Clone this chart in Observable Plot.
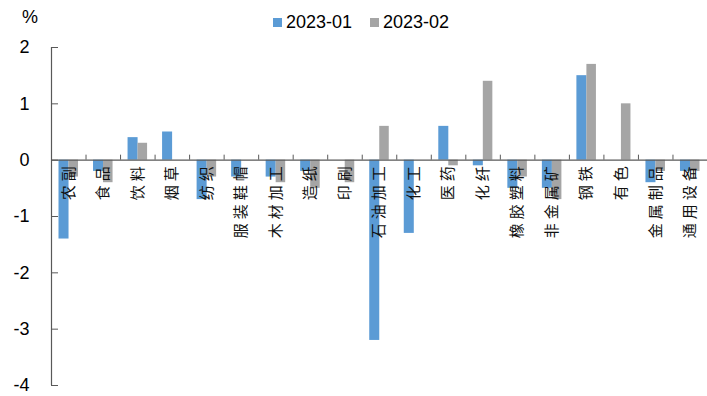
<!DOCTYPE html>
<html><head><meta charset="utf-8">
<script src="https://cdn.jsdelivr.net/npm/d3@7"></script>
<script src="https://cdn.jsdelivr.net/npm/@observablehq/plot@0.6"></script>
<style>
body{margin:0;background:#fff;font-family:"Liberation Sans",Arial,sans-serif;}
#wrap{position:relative;width:707px;height:396px;overflow:hidden;}
.lg{position:absolute;font-size:18px;color:#000;line-height:1;white-space:nowrap;}
.sw{position:absolute;width:9px;height:9px;}
</style></head><body>
<div id="wrap"></div>
<script>
const categories = ["农副","食品","饮料","烟草","纺织","服装鞋帽","木材加工","造纸","印刷","石油加工","化工","医药","化纤","橡胶塑料","非金属矿","钢铁","有色","金属制品","通用设备"];
const jan = [-1.4,-0.2,0.4,0.5,-0.7,-0.3,-0.3,-0.2,0,-3.2,-1.3,0.6,-0.1,-0.5,-0.5,1.5,0,-0.4,-0.2];
const feb = [-0.3,-0.4,0.3,0,-0.3,0,-0.4,-0.5,-0.4,0.6,0,-0.1,1.4,-0.3,-0.7,1.7,1.0,-0.2,-0.2];
const seriesNames = ["2023-01","2023-02"];
const seriesColors = ["#5b9bd5","#a5a5a5"];
const yTicks = [-4,-3,-2,-1,0,1,2];
const unitLabel = "%";

const W = 707, H = 396, mL = 51, mT = 47, mB = 11;
const bw = (W - mL) / categories.length;
const axisColor = "#595959";
const rows = vals => categories.map((c, i) => ({cat: c, v: vals[i]}));

const plot = Plot.plot({
  width: W, height: H,
  marginLeft: mL, marginRight: 0, marginTop: mT, marginBottom: mB,
  x: {type: "band", domain: categories, padding: 0, round: false, axis: null},
  y: {domain: [d3.min(yTicks), d3.max(yTicks)], label: null},
  style: {fontFamily: "'Liberation Sans', Arial, sans-serif", fontSize: "18px", color: "#000", background: "#fff", overflow: "visible"},
  marks: [
    Plot.barY(rows(jan), {x: "cat", y: "v", fill: seriesColors[0], insetLeft: 7.5, insetRight: 17}),
    Plot.barY(rows(feb), {x: "cat", y: "v", fill: seriesColors[1], insetLeft: 17.5, insetRight: 7.5}),
    Plot.ruleY([0], {stroke: axisColor, strokeWidth: 1.2}),
    Plot.ruleX([categories[0]], {x: d => d, y1: d3.min(yTicks), y2: d3.max(yTicks), dx: -bw / 2, stroke: axisColor, strokeWidth: 1.2}),
    Plot.ruleY(yTicks, {y: d => d, insetRight: W - mL - 7, stroke: axisColor}),
    Plot.ruleX(categories.slice(1), {x: d => d, y1: 0, y2: 0, insetBottom: 5, dx: -bw / 2, stroke: axisColor}),
    Plot.axisY({ticks: yTicks, tickSize: 0, tickPadding: 22, tickFormat: d => String(d), fontSize: 18, label: null}),
    Plot.text(categories, {x: d => d, y: 0, text: d => d, rotate: -90, textAnchor: "end", dy: 2, fontSize: 15, fill: "#111", fontFamily: "'Noto Sans CJK SC', sans-serif"})
  ]
});
d3.select(plot).selectAll("g[aria-label='text'] text").style("letter-spacing", "4px");

const wrap = document.getElementById("wrap");
wrap.appendChild(plot);
plot.style.position = "absolute";
plot.style.left = "0px";
plot.style.top = "0px";

function addSpan(cls, left, top, text, bg) {
  const s = document.createElement("span");
  s.className = cls;
  s.style.left = left + "px";
  s.style.top = top + "px";
  if (text != null) s.textContent = text;
  if (bg) s.style.background = bg;
  wrap.appendChild(s);
}
addSpan("lg", 22, 8, unitLabel);
const legendX = [273, 370];
seriesNames.forEach((name, i) => {
  addSpan("sw", legendX[i], 18, null, seriesColors[i]);
  addSpan("lg", legendX[i] + 13, 13, name);
});
</script>
</body></html>
